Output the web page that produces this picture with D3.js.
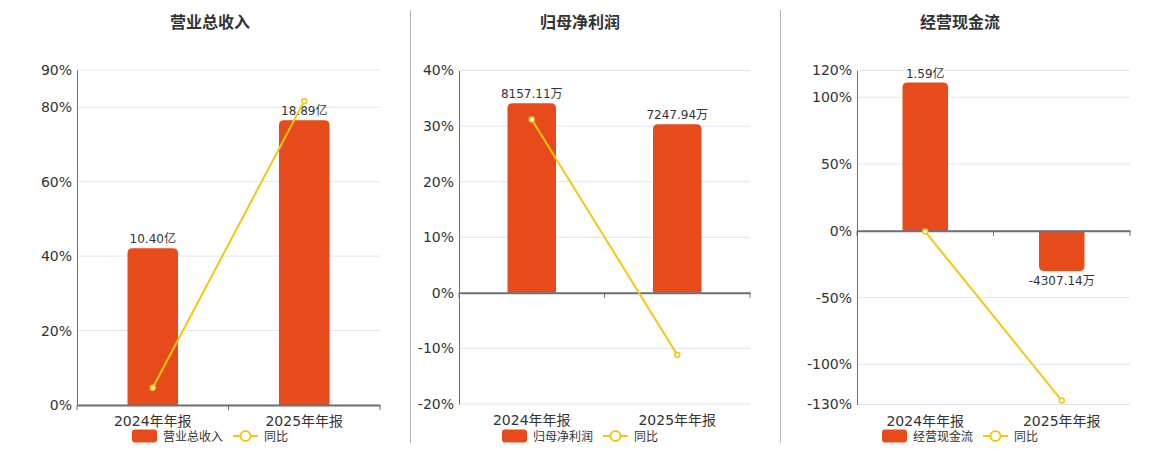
<!DOCTYPE html>
<html>
<head>
<meta charset="utf-8">
<script src="https://cdn.jsdelivr.net/npm/d3@7/dist/d3.min.js"></script>
<style>
    body { margin: 0; background: #fff; }
    svg text { font-family: "DejaVu Sans", "Noto Sans CJK SC", sans-serif; fill: #333; }
</style>
</head>
<body>
<svg id="chart" width="1160" height="450"></svg>
<script>
"use strict";

const years = ["2024年年报", "2025年年报"];

const revenue = [10.40, 18.89];
const revenueLabels = ["10.40亿", "18.89亿"];
const revenueYoy = [4.65, 81.63];

const profit = [8157.11, 7247.94];
const profitLabels = ["8157.11万", "7247.94万"];
const profitYoy = [31.2, -11.15];

const cashflow = [15900, -4307.14];
const cashflowLabels = ["1.59亿", "-4307.14万"];
const cashflowYoy = [-0.6, -127.09];

const revenueTicks = [0, 20, 40, 60, 80, 90];
const profitTicks = [-20, -10, 0, 10, 20, 30, 40];
const cashflowTicks = [-130, -100, -50, 0, 50, 100, 120];

const BAR = "#e84b1b";
const LINE = "#f2c811";
const AXIS = "#6e7079";
const GRID = "#e0e6f1";

let panels = [
    { title: "营业总收入", center: 210, left: 77, right: 380, top: 70, bottom: 405,
      values: revenue, labels: revenueLabels, yoy: revenueYoy, ticks: revenueTicks, barDomain: [0, 22.23] },
    { title: "归母净利润", center: 580, left: 459, right: 750, top: 70.5, bottom: 404,
      values: profit, labels: profitLabels, yoy: profitYoy, ticks: profitTicks, barDomain: [-4780, 9560] },
    { title: "经营现金流", center: 960, left: 857, right: 1130, top: 70.5, bottom: 404.5,
      values: cashflow, labels: cashflowLabels, yoy: cashflowYoy, ticks: cashflowTicks, barDomain: [-18600, 17190] },
];

const svg = d3.select("#chart");

// dividers between the three panels
for (let x of [410.5, 780.5]) {
    svg.append("line")
        .attr("x1", x).attr("x2", x).attr("y1", 10).attr("y2", 443)
        .attr("stroke", "#b4b4b0").attr("stroke-width", 1);
}

function barPath(x, w, y0, y1, r) {
    // rounded on the end away from zero
    let h = Math.abs(y1 - y0);
    r = Math.min(r, h, w / 2);
    if (y1 < y0) {
        return `M${x},${y0} V${y1 + r} Q${x},${y1} ${x + r},${y1} H${x + w - r} Q${x + w},${y1} ${x + w},${y1 + r} V${y0} Z`;
    }
    return `M${x},${y0} V${y1 - r} Q${x},${y1} ${x + r},${y1} H${x + w - r} Q${x + w},${y1} ${x + w},${y1 - r} V${y0} Z`;
}

function drawPanel(p) {
    let g = svg.append("g");

    let x = d3.scaleBand().domain(years).range([p.left, p.right]).padding(0);
    let y = d3.scaleLinear().domain(d3.extent(p.ticks)).range([p.bottom, p.top]);
    let yBar = d3.scaleLinear().domain(p.barDomain).range([p.bottom, p.top]);
    let zero = y(0);
    let bw = x.bandwidth() / 3;

    g.append("text")
        .attr("x", p.center).attr("y", 28)
        .attr("text-anchor", "middle")
        .style("font-family", "'Noto Sans CJK SC', sans-serif")
        .style("font-size", "16px").style("font-weight", "bold")
        .text(p.title);

    // grid
    g.selectAll(".grid").data(p.ticks).enter().append("line")
        .attr("x1", p.left).attr("x2", p.right)
        .attr("y1", d => y(d)).attr("y2", d => y(d))
        .attr("stroke", GRID).attr("stroke-width", 1);

    // y axis
    let yAxis = g.append("g")
        .attr("transform", `translate(${p.left},0)`)
        .call(d3.axisLeft(y).tickValues(p.ticks).tickSize(0).tickPadding(5).tickFormat(d => d + "%"));
    yAxis.select(".domain").attr("stroke", AXIS);
    yAxis.selectAll("text").style("font-size", "14px").attr("fill", "#333");

    // bars
    g.selectAll(".bar").data(p.values).enter().append("path")
        .attr("d", (d, i) => barPath(x(years[i]) + (x.bandwidth() - bw) / 2, bw, yBar(0), yBar(d), 5))
        .attr("fill", BAR);

    // x axis at zero
    let xAxis = g.append("g")
        .attr("transform", `translate(0,${zero})`)
        .call(d3.axisBottom(x).tickSize(0).tickFormat(""));
    xAxis.select(".domain").attr("stroke", AXIS).attr("stroke-width", 2);
    let bounds = [p.left, x(years[1]), p.right];
    g.selectAll(".xtick").data(bounds).enter().append("line")
        .attr("x1", d => d).attr("x2", d => d)
        .attr("y1", zero).attr("y2", zero + 5)
        .attr("stroke", AXIS);

    // category labels
    g.selectAll(".cat").data(years).enter().append("text")
        .attr("x", d => x(d) + x.bandwidth() / 2).attr("y", p.bottom + 21)
        .attr("text-anchor", "middle")
        .style("font-size", "14px")
        .text(d => d);

    // value labels
    g.selectAll(".val").data(p.values).enter().append("text")
        .attr("x", (d, i) => x(years[i]) + x.bandwidth() / 2)
        .attr("y", d => d >= 0 ? yBar(d) - 5 : yBar(d) + 14)
        .attr("text-anchor", "middle")
        .style("font-size", "12px")
        .text((d, i) => p.labels[i]);

    // yoy line
    let line = d3.line()
        .x((d, i) => x(years[i]) + x.bandwidth() / 2)
        .y(d => y(d));
    g.append("path").datum(p.yoy)
        .attr("d", line)
        .attr("fill", "none").attr("stroke", LINE).attr("stroke-width", 2);
    g.selectAll(".pt").data(p.yoy).enter().append("circle")
        .attr("cx", (d, i) => x(years[i]) + x.bandwidth() / 2)
        .attr("cy", d => y(d))
        .attr("r", 2.5)
        .attr("fill", "#fff").attr("stroke", LINE).attr("stroke-width", 1.5);

    // legend
    let c = p.center;
    let ly = 436;
    g.append("rect")
        .attr("x", c - 78).attr("y", ly - 6.5).attr("width", 25).attr("height", 13)
        .attr("rx", 3).attr("fill", BAR);
    g.append("text")
        .attr("x", c - 47).attr("y", ly + 4.5)
        .style("font-size", "12px")
        .text(p.title);
    g.append("line")
        .attr("x1", c + 23).attr("x2", c + 48).attr("y1", ly).attr("y2", ly)
        .attr("stroke", LINE).attr("stroke-width", 2);
    g.append("circle")
        .attr("cx", c + 35.5).attr("cy", ly).attr("r", 5)
        .attr("fill", "#fff").attr("stroke", LINE).attr("stroke-width", 2);
    g.append("text")
        .attr("x", c + 54).attr("y", ly + 4.5)
        .style("font-size", "12px")
        .text("同比");
}

for (let p of panels) drawPanel(p);
</script>
</body>
</html>
